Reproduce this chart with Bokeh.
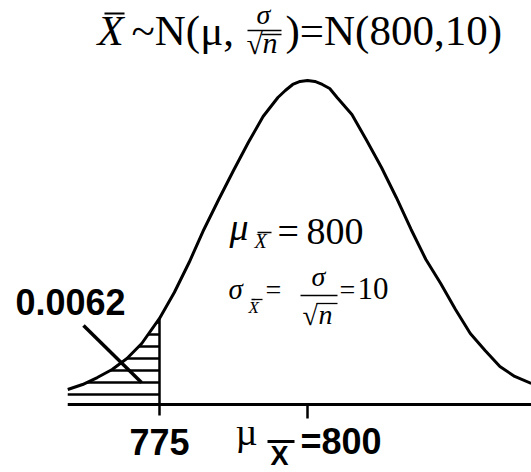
import numpy as np
from bokeh.plotting import figure
from bokeh.models import Range1d
from bokeh.core.properties import value
from bokeh.embed import file_html
from bokeh.resources import INLINE

# Sampling distribution of the sample mean, X-bar ~ N(800, 10)
MEAN = 800
STD_ERR = 10
CUTOFF = 775
TAIL_PROB = "0.0062"

# Curve samples: x value and density height
curve_x = [759.5, 762.0, 764.5, 767.0, 769.5, 772.0, 775.0, 777.5, 780.0, 782.5,
           785.0, 787.5, 790.0, 792.5, 795.0, 796.25, 797.5, 798.75, 800.0, 801.25,
           802.5, 803.75, 805.0, 807.5, 810.0, 812.5, 815.0, 817.5, 820.0, 822.5,
           825.0, 827.5, 830.0, 832.5, 835.0, 837.8]
curve_y = [0.00185, 0.00246, 0.00332, 0.00431, 0.00566, 0.00751, 0.01059, 0.01379,
           0.01748, 0.02155, 0.02524, 0.02881, 0.03226, 0.03546, 0.03780, 0.03866,
           0.03940, 0.03977, 0.03989, 0.03977, 0.03940, 0.03891, 0.03780, 0.03570,
           0.03250, 0.02918, 0.02549, 0.02155, 0.01785, 0.01490, 0.01170, 0.00874,
           0.00665, 0.00468, 0.00345, 0.00259]

# ---- layout: canvas pixels <-> data units
W, H = 531, 472
PX_PER_UNIT = 5.92
MEAN_PX = 307
AXIS_PX = 404
DENS_PER_PX = 0.03989 / 324
X_LEFT = MEAN - MEAN_PX / PX_PER_UNIT
BASELINE_SHIFT = 0.38   # text glyph baseline correction, in ems


def dx(px):
    return X_LEFT + px / PX_PER_UNIT


def dy(py):
    return (AXIS_PX - py) * DENS_PER_PX


p = figure(width=W, height=H, output_backend="svg", toolbar_location=None,
           x_axis_type=None, y_axis_type=None, min_border=0,
           x_range=Range1d(dx(0), dx(W)), y_range=Range1d(dy(H), dy(0)))
p.outline_line_color = None
p.background_fill_color = "white"
p.border_fill_color = "white"

INK = "black"
SERIF = "Liberation Serif"
SANS = "Liberation Sans"


def txt(px, py, s, size, font=SERIF, style="normal", align="left", x=None):
    p.text(x=[dx(px) if x is None else x], y=[dy(py - BASELINE_SHIFT * size)],
           text=[s], text_font=value(font), text_font_size=f"{size}px",
           text_font_style=style, text_align=align,
           text_baseline="alphabetic", text_color=INK)


def rule(px0, py0, px1, py1, width):
    p.segment(x0=[dx(px0)], y0=[dy(py0)], x1=[dx(px1)], y1=[dy(py1)],
              line_width=width, line_color=INK)


cx = np.array(curve_x)
cy = np.array(curve_y)

# horizontal hatching of the lower tail (left of the cutoff)
HATCH_START_PX, HATCH_GAP_PX = 10, 12
left = cx <= CUTOFF
cut_height = float(np.interp(CUTOFF, cx, cy))
levels = []
lvl = HATCH_START_PX * DENS_PER_PX
while lvl < cut_height:
    levels.append(lvl)
    lvl += HATCH_GAP_PX * DENS_PER_PX
levels = np.array(levels)
hatch_x0 = np.interp(levels, cy[left], cx[left])
p.segment(x0=hatch_x0, y0=levels, x1=[CUTOFF] * len(levels), y1=levels,
          line_width=2.5, line_color=INK)

# cutoff line from the curve down through the axis (tick)
p.segment(x0=[CUTOFF], y0=[cut_height], x1=[CUTOFF], y1=[-11 * DENS_PER_PX],
          line_width=2.5, line_color=INK)
# mean tick
p.segment(x0=[MEAN], y0=[0], x1=[MEAN], y1=[-14 * DENS_PER_PX],
          line_width=2.5, line_color=INK)

# horizontal axis
p.segment(x0=[cx[0]], y0=[0], x1=[dx(W)], y1=[0], line_width=3, line_color=INK)

# density curve
p.line(cx, cy, line_width=3, line_color=INK, line_join="round")

# pointer from the probability label into the tail
rule(83, 325, 141, 382, 3.5)

# ---- labels
txt(15, 315, TAIL_PROB, 36, font=SANS, style="bold")
txt(0, 455, str(CUTOFF), 36, font=SANS, style="bold", align="center", x=CUTOFF)
txt(235, 446, "\u00b5", 38)
rule(267, 441, 294, 441, 3)
txt(270, 466, "X", 27, font=SANS, style="bold")
txt(300, 455, f"={MEAN}", 36, font=SANS, style="bold")

# title: X-bar ~ N(mu, sigma/sqrt(n)) = N(800,10)
txt(97, 46, "X", 43, style="italic")
rule(104, 13, 124, 13, 1.8)
txt(131, 46, "~N(\u03bc,", 43)
txt(263, 25, "\u03c3", 28, style="italic", align="center")
rule(247, 30, 281, 30, 1.5)
txt(246, 54, "\u221a", 30)
txt(262, 53, "n", 30, style="italic")
rule(261, 34, 281, 34, 1.5)
txt(285, 46, f")=N({MEAN},{STD_ERR})", 43)

# mean of X-bar
txt(229, 241, "\u03bc", 38, style="italic")
txt(254, 248, "X", 20, style="italic")
rule(257, 232, 271, 232, 1.5)
txt(277, 245, "=", 38)
txt(306, 245, str(MEAN), 38)

# standard error of X-bar
txt(228, 300, "\u03c3", 29, style="italic")
txt(248, 313, "X", 17, style="italic")
rule(251, 299, 262, 299, 1.3)
txt(265, 300, "=", 28)
txt(318, 287, "\u03c3", 28, style="italic", align="center")
rule(300, 295, 337, 295, 1.5)
txt(302, 326, "\u221a", 28)
txt(318, 325, "n", 28, style="italic")
rule(316, 303, 337, 303, 1.3)
txt(339, 300, "=", 28)
txt(357, 300, str(STD_ERR), 31)

open("out.html", "w").write(file_html(p, INLINE))
